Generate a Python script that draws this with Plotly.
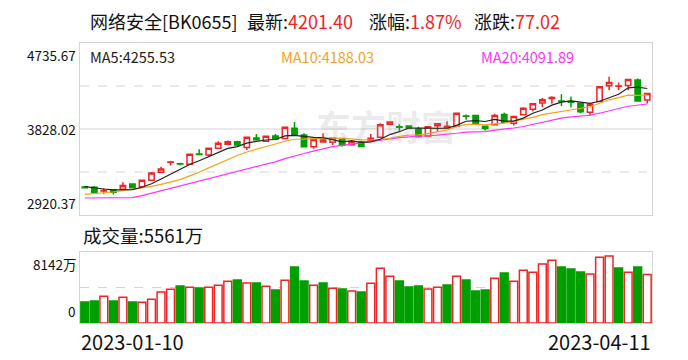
import plotly.graph_objects as go

# ---------------- data ----------------
open_ = [3216, 3212, 3174, 3184, 3191, 3247, 3219, 3286, 3371, 3476,
         3461, 3455, 3565, 3554, 3624, 3666, 3694, 3634, 3733, 3698,
         3754, 3729, 3835, 3765, 3642, 3691, 3689, 3729, 3663, 3692,
         3703, 3740, 3877, 3851, 3860, 3828, 3754, 3863, 3839, 3860,
         3966, 3971, 3858, 3872, 3981, 3890, 3978, 4036, 4102, 4150,
         4124, 4117, 4099, 4004, 4117, 4285, 4278, 4288, 4346, 4135]
high = [3227, 3226, 3202, 3191, 3265, 3255, 3290, 3374, 3430, 3490,
        3473, 3564, 3613, 3628, 3698, 3706, 3705, 3744, 3775, 3758,
        3775, 3850, 3902, 3782, 3718, 3782, 3740, 3733, 3712, 3705,
        3775, 3888, 3909, 3877, 3867, 3852, 3860, 3891, 3909, 4000,
        3981, 3975, 3863, 3988, 3999, 3967, 4057, 4098, 4154, 4173,
        4195, 4170, 4105, 4092, 4280, 4380, 4318, 4352, 4360, 4203]
low = [3199, 3156, 3145, 3138, 3184, 3202, 3215, 3282, 3364, 3444,
       3445, 3452, 3552, 3543, 3620, 3660, 3649, 3606, 3708, 3691,
       3719, 3725, 3761, 3634, 3620, 3684, 3660, 3642, 3660, 3638,
       3687, 3736, 3872, 3807, 3832, 3740, 3747, 3800, 3832, 3853,
       3925, 3883, 3812, 3865, 3895, 3865, 3973, 4016, 4059, 4094,
       4071, 4056, 3994, 3966, 4110, 4237, 4240, 4236, 4117, 4096]
close = [3208, 3160, 3178, 3160, 3233, 3209, 3286, 3364, 3406, 3480,
         3458, 3561, 3558, 3624, 3677, 3694, 3659, 3740, 3715, 3751,
         3722, 3846, 3772, 3642, 3716, 3712, 3731, 3656, 3695, 3644,
         3731, 3874, 3902, 3847, 3839, 3747, 3853, 3884, 3856, 3993,
         3963, 3890, 3834, 3971, 3900, 3960, 4048, 4094, 4138, 4159.5,
         4120, 4110, 4011, 4089, 4272.63, 4320, 4281, 4350.87, 4124.38, 4201.40]
volume = [2408, 2523, 3058, 2523, 2944, 2408, 2370, 2714, 3555, 3861,
          4244, 4091, 4014, 4091, 4320, 4779, 4932, 4588, 4588, 4205,
          3785, 4893, 6423, 4817, 4320, 4588, 3976, 3900, 3670, 3555,
          4549, 6270, 5352, 4817, 4129, 4244, 3900, 4091, 4358, 5352,
          4932, 3670, 3785, 5123, 5735, 4779, 6040, 5811, 6767, 7187,
          6423, 6193, 5849, 5620, 7531, 7684, 6308, 5811, 6423, 5561]
close_before_first = 3215
# moving-average values at the left edge (their windows start before the chart)
ma5_head = [3219, 3205, 3195, 3186]
ma10_head = [3138, 3145, 3153, 3163, 3177, 3191, 3209, 3223, 3244]
ma20_head = [3100, 3100, 3101, 3100, 3101, 3103, 3125, 3150, 3175, 3200,
             3225, 3252, 3278, 3303, 3329, 3354, 3380, 3405, 3430]
price_ticks = [2920.37, 3828.02, 4735.67]
vol_ticks = [0, 8142]
date_labels = ["2023-01-10", "2023-04-11"]
board_name = "网络安全[BK0655]"

# ---------------- styles ----------------
RED = "#F22323"
GREEN = "#009F00"
GRID = "#D4D4D4"
FONT = "Noto Sans CJK SC"
OFF = 8                      # page body margin added by the browser
FW, FH = 680, 352            # figure size so that page 688x360 is filled
X0, X1 = 80, 652             # page pixel positions of the plot boxes
PT, PB = 43, 215
VT, VB = 252, 323

n = len(close)
xs = list(range(n))


def ma(k, head):
    out = list(head)
    for i in range(len(head), n):
        out.append(sum(close[i - k + 1:i + 1]) / k)
    return out


ma5 = ma(5, ma5_head)
ma10 = ma(10, ma10_head)
ma20 = ma(20, ma20_head)

prev = [close_before_first] + close[:-1]
vol_up = [c >= p for c, p in zip(close, prev)]


def px_x(p):
    return (p - OFF) / FW


def px_y(p):
    return 1 - (p - OFF) / FH


fig = go.Figure()

fig.add_trace(go.Candlestick(
    x=xs, open=open_, high=high, low=low, close=close,
    increasing=dict(line=dict(color=RED, width=1.5), fillcolor="white"),
    decreasing=dict(line=dict(color=GREEN, width=1.5), fillcolor=GREEN),
    whiskerwidth=0, xaxis="x", yaxis="y", showlegend=False))

for vals, col in [(ma20, "#FF33FF"), (ma10, "#F7A21B"), (ma5, "#222222")]:
    fig.add_trace(go.Scatter(x=xs, y=vals, mode="lines",
                             line=dict(color=col, width=1.2),
                             xaxis="x", yaxis="y", showlegend=False,
                             hoverinfo="skip"))

fig.add_trace(go.Bar(
    x=xs, y=volume,
    marker=dict(color=["white" if u else GREEN for u in vol_up],
                line=dict(color=[RED if u else GREEN for u in vol_up], width=1.5)),
    xaxis="x2", yaxis="y2", showlegend=False))

axis_common = dict(showgrid=False, showticklabels=False, zeroline=False,
                   showline=True, mirror=True, linecolor=GRID, linewidth=1)
fig.update_layout(
    width=FW, height=FH, margin=dict(l=0, r=0, t=0, b=0),
    paper_bgcolor="white", plot_bgcolor="white",
    font=dict(family=FONT, color="#111111"),
    bargap=0.18, boxgap=0.2,
    xaxis=dict(domain=[px_x(X0), px_x(X1)], range=[-0.5, n - 0.5],
               rangeslider=dict(visible=False), anchor="y", **axis_common),
    yaxis=dict(domain=[px_y(PB), px_y(PT)], range=[price_ticks[0], price_ticks[-1]],
               anchor="x", **axis_common),
    xaxis2=dict(domain=[px_x(X0), px_x(X1)], range=[-0.5, n - 0.5],
                anchor="y2", **axis_common),
    yaxis2=dict(domain=[px_y(VB), px_y(VT)], range=[vol_ticks[0], vol_ticks[-1]],
                anchor="x2", **axis_common),
)

shapes = []
for frac, dash in [(0.25, "dash"), (0.5, "solid"), (0.75, "dash")]:
    shapes.append(dict(type="line", xref="x domain", yref="y domain",
                       x0=0, x1=1, y0=frac, y1=frac, layer="below",
                       line=dict(color=GRID, width=1, dash=dash)))
shapes.append(dict(type="line", xref="x2 domain", yref="y2 domain",
                   x0=0, x1=1, y0=0.5, y1=0.5, layer="below",
                   line=dict(color=GRID, width=1, dash="dash")))
fig.update_layout(shapes=shapes)

ann = []
# watermark
ann.append(dict(text="东方财富", xref="paper", yref="paper", x=px_x(386), y=px_y(125),
                xanchor="center", yanchor="middle", showarrow=False,
                font=dict(size=35, color="rgba(150,150,155,0.2)", family=FONT, weight="bold")))

# title
last = close[-1]
chg = close[-1] - close[-2]
pct = chg / close[-2] * 100
title_parts = [
    (board_name, 89),
    (f"最新:<span style='color:{RED}'>{last:.2f}</span>", 246),
    (f"涨幅:<span style='color:{RED}'>{pct:.2f}%</span>", 368),
    (f"涨跌:<span style='color:{RED}'>{chg:.2f}</span>", 473),
]
for txt, xp in title_parts:
    ann.append(dict(text=txt, xref="paper", yref="paper", x=px_x(xp), y=px_y(21),
                    xanchor="left", yanchor="middle", showarrow=False, xshift=-1,
                    font=dict(size=18, color="#111111", family=FONT)))

# MA legend
for label, vals, col, xp in [("MA5", ma5, "#222222", 89), ("MA10", ma10, "#F7A21B", 280),
                             ("MA20", ma20, "#FF33FF", 480)]:
    ann.append(dict(text=f"{label}:{vals[-1]:.2f}", xref="paper", yref="paper",
                    x=px_x(xp), y=px_y(56), xanchor="left", yanchor="middle", xshift=-1,
                    showarrow=False, font=dict(size=14.5, color=col, family=FONT)))

# price tick labels
anchors = ["bottom", "middle", "top"]
for v, a in zip(price_ticks, anchors):
    ann.append(dict(text=f"{v:.2f}", xref="paper", yref="y", x=px_x(78), y=v,
                    xanchor="right", yanchor=a, showarrow=False,
                    font=dict(size=13.5, color="#111111", family=FONT)))

# volume labels
ann.append(dict(text=f"成交量:{volume[-1]:.0f}万", xref="paper", yref="paper",
                x=px_x(82), y=px_y(235), xanchor="left", yanchor="middle", xshift=-1,
                showarrow=False, font=dict(size=18.5, color="#111111", family=FONT)))
ann.append(dict(text=f"{vol_ticks[1]}万", xref="paper", yref="y2", x=px_x(78), y=vol_ticks[1],
                xanchor="right", yanchor="top", showarrow=False,
                font=dict(size=13.5, color="#111111", family=FONT)))
ann.append(dict(text=f"{vol_ticks[0]}", xref="paper", yref="y2", x=px_x(78), y=vol_ticks[0],
                xanchor="right", yanchor="bottom", showarrow=False,
                font=dict(size=13.5, color="#111111", family=FONT)))

# date labels
ann.append(dict(text=date_labels[0], xref="x2", yref="paper", x=-0.5, y=px_y(341),
                xanchor="left", yanchor="middle", showarrow=False, xshift=-1,
                font=dict(size=20, color="#111111", family=FONT)))
ann.append(dict(text=date_labels[1], xref="x2", yref="paper", x=n - 0.5, y=px_y(341),
                xanchor="right", yanchor="middle", showarrow=False, xshift=1,
                font=dict(size=20, color="#111111", family=FONT)))

fig.update_layout(annotations=ann)
fig.write_html("out.html")
